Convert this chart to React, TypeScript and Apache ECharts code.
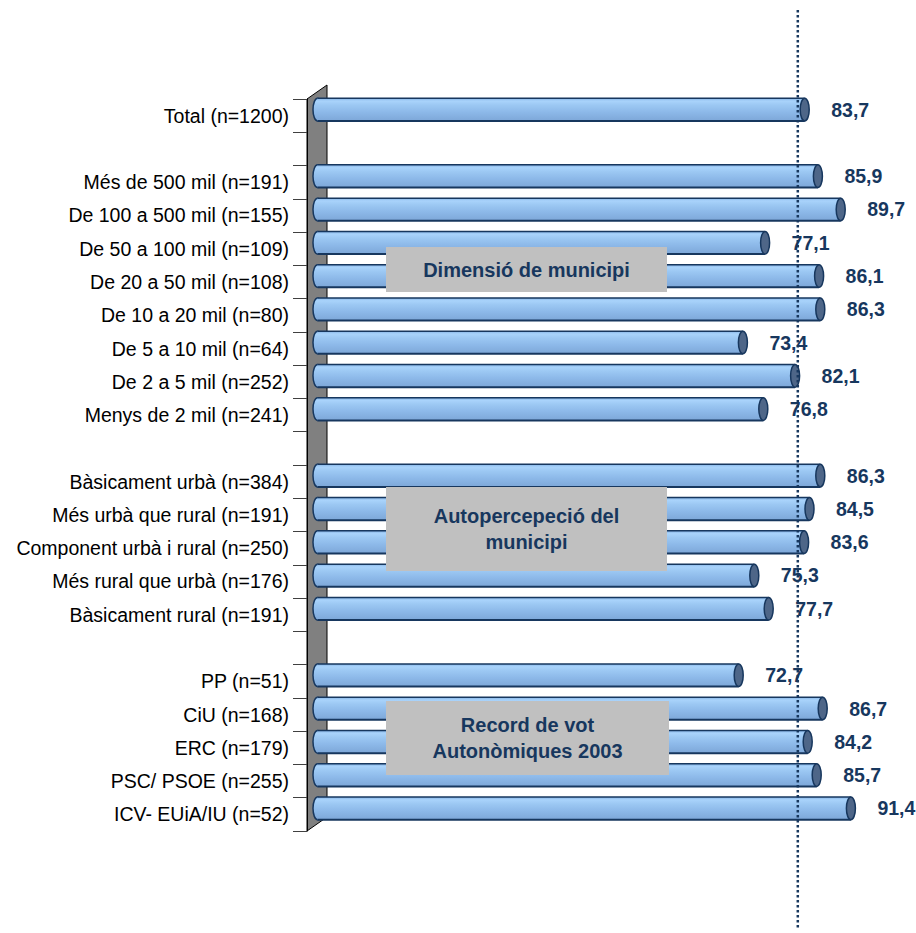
import React, { useEffect, useRef } from "react";
import * as echarts from "echarts";

const categories = [
  "Total (n=1200)",
  "",
  "Més de 500 mil (n=191)",
  "De 100 a 500 mil (n=155)",
  "De 50 a 100 mil (n=109)",
  "De 20 a 50 mil (n=108)",
  "De 10 a 20 mil (n=80)",
  "De 5 a 10 mil (n=64)",
  "De 2 a 5 mil (n=252)",
  "Menys de 2 mil (n=241)",
  "",
  "Bàsicament urbà (n=384)",
  "Més urbà que rural (n=191)",
  "Component urbà i rural (n=250)",
  "Més rural que urbà (n=176)",
  "Bàsicament rural (n=191)",
  "",
  "PP (n=51)",
  "CiU (n=168)",
  "ERC (n=179)",
  "PSC/ PSOE (n=255)",
  "ICV- EUiA/IU (n=52)",
];

const values: (number | null)[] = [
  83.7, null, 85.9, 89.7, 77.1, 86.1, 86.3, 73.4, 82.1, 76.8, null,
  86.3, 84.5, 83.6, 75.3, 77.7, null, 72.7, 86.7, 84.2, 85.7, 91.4,
];

const referenceValue = 81.8;

const groupTitles = [
  "Dimensió de municipi",
  "Autopercepeció del\nmunicipi",
  "Record de vot\nAutonòmiques 2003",
];

const NAVY = "#17375E";
const FONT = "'Liberation Sans', Arial, sans-serif";

export default function App() {
  const ref = useRef<HTMLDivElement>(null);
  useEffect(() => {
    if (!ref.current) return;
    const chart = echarts.init(ref.current, null, { renderer: "svg" });
    const data = values
      .map((v, i) => (v == null ? null : { value: [v, i] }))
      .filter((d) => d != null);

    const boxes = [
      { x: 386, y: 247, w: 281, h: 45, text: groupTitles[0] },
      { x: 386, y: 487, w: 281, h: 84, text: groupTitles[1] },
      { x: 386, y: 701, w: 283, h: 74, text: groupTitles[2] },
    ];

    const graphicEls: any[] = [
      {
        type: "polygon",
        z: 0,
        shape: { points: [[307, 99], [327, 85], [327, 817], [307, 831]] },
        style: { fill: "#808080", stroke: "#000", lineWidth: 1 },
      },
    ];
    boxes.forEach((b, i) => {
      graphicEls.push({
        type: "rect",
        id: "box" + i,
        z: 50,
        shape: { x: b.x, y: b.y, width: b.w, height: b.h },
        style: { fill: "#C0C0C0" },
      });
      graphicEls.push({
        type: "text",
        id: "boxt" + i,
        z: 51,
        x: b.x + b.w / 2,
        y: b.y + b.h / 2,
        style: {
          text: b.text,
          fill: NAVY,
          font: `bold 20px ${FONT}`,
          align: "center",
          verticalAlign: "middle",
          lineHeight: 26,
        },
      });
    });

    const option: any = {
      animation: false,
      backgroundColor: "#fff",
      grid: { left: 307, top: 99, width: 600, height: 732, containLabel: false },
      xAxis: { type: "value", min: 0, max: 100, show: false },
      yAxis: {
        type: "category",
        data: categories,
        inverse: true,
        boundaryGap: true,
        axisLine: { show: true, lineStyle: { color: "#000", width: 1 } },
        axisTick: { show: true, interval: 0, length: 14, lineStyle: { color: "#404040", width: 1 } },
        axisLabel: { interval: 0, margin: 18, color: "#000", fontSize: 19.5, fontFamily: FONT },
        splitLine: { show: false },
      },
      graphic: { elements: graphicEls },
      series: [
        {
          type: "custom",
          z: 5,
          data,
          encode: { x: 0, y: 1 },
          renderItem: (params: any, api: any) => {
            const v = api.value(0);
            const c = api.value(1);
            const p1 = api.coord([v, c]);
            const p0 = api.coord([0, c]);
            const band = api.size([0, 1])[1];
            const h = band * 0.68;
            const cy = p1[1] - 6;
            const rx = 4.5;
            const x0 = p0[0] + 6;
            const x1 = p1[0];
            const top = cy - h / 2;
            const bot = cy + h / 2;
            const grad = () =>
              new echarts.graphic.LinearGradient(0, 0, 0, 1, [
                { offset: 0, color: "#86B4E6" },
                { offset: 0.12, color: "#A9D3FB" },
                { offset: 0.3, color: "#9CC8F3" },
                { offset: 0.6, color: "#8DB9E9" },
                { offset: 1, color: "#7DA7D8" },
              ]);
            const label = v.toFixed(1).replace(".", ",");
            return {
              type: "group",
              children: [
                {
                  type: "ellipse",
                  shape: { cx: x0 + rx, cy, rx, ry: h / 2 },
                  style: { fill: grad(), stroke: NAVY, lineWidth: 1.5 },
                },
                {
                  type: "rect",
                  shape: { x: x0 + rx, y: top, width: x1 - 2 * rx - x0, height: h },
                  style: { fill: grad() },
                },
                {
                  type: "line",
                  shape: { x1: x0 + rx, y1: top, x2: x1 - rx, y2: top },
                  style: { stroke: NAVY, lineWidth: 1.5 },
                },
                {
                  type: "line",
                  shape: { x1: x0 + rx, y1: bot, x2: x1 - rx, y2: bot },
                  style: { stroke: NAVY, lineWidth: 2 },
                },
                {
                  type: "ellipse",
                  shape: { cx: x1 - rx, cy, rx, ry: h / 2 },
                  style: { fill: "#4E6688", stroke: NAVY, lineWidth: 1.5 },
                },
                {
                  type: "text",
                  style: {
                    x: x1 + 22,
                    y: cy,
                    text: label,
                    fill: NAVY,
                    font: `bold 19.5px ${FONT}`,
                    align: "left",
                    verticalAlign: "middle",
                  },
                },
              ],
            };
          },
        },
      ],
    };
    chart.setOption(option);
    const rx = chart.convertToPixel({ xAxisIndex: 0 }, referenceValue) as number;
    chart.setOption({
      graphic: {
        elements: [
          {
            type: "line",
            id: "refline",
            z: 100,
            shape: { x1: rx, y1: 10, x2: rx, y2: 930 },
            style: { stroke: NAVY, lineWidth: 2.5, lineDash: [2.5, 2.5] },
          },
        ],
      },
    });
    return () => chart.dispose();
  }, []);
  return (
    <div
      ref={ref}
      style={{ position: "absolute", left: 0, top: 0, width: 916, height: 933 }}
    />
  );
}
